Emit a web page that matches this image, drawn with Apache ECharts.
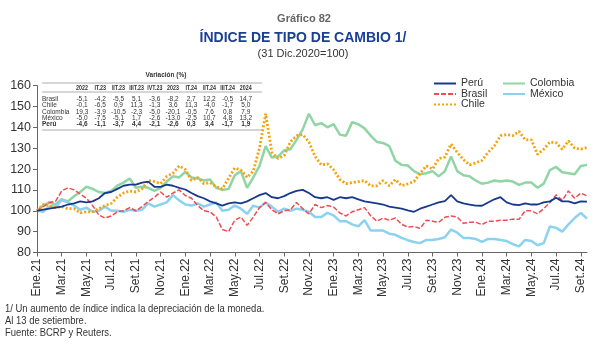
<!DOCTYPE html>
<html><head><meta charset="utf-8">
<script src="https://cdn.jsdelivr.net/npm/echarts@6/dist/echarts.min.js"></script>
<style>html,body{margin:0;padding:0;background:#fff}#c{width:600px;height:348px}</style>
</head><body><div id="c"></div>
<script>
// ---- data ----
const monthNames = ['Ene','Feb','Mar','Abr','May','Jun','Jul','Ago','Set','Oct','Nov','Dic'];
// semi-monthly observations: 1st and 15th of each month, Jan 2021 - Sep 2024 (last = 13 Sep 2024)
const categories = [];
for (let m = 0; m < 45; m++) { const nm = monthNames[m % 12] + '.' + (21 + Math.floor(m / 12)); categories.push(nm); categories.push('15 ' + nm); }

const peru = [
100,100.5, 101,101.5, 102,103, 103.5,104.5, 104,104.5, 106,108.5, 109,110.5, 112,112.5, 112.5,113.5, 114,111.5, 111.5,112.5, 112,111,
110.2,108.5, 107,106, 104.5,103.5, 102.5,103.5, 104,103.5, 104.5,106, 107.5,108.5, 106.5,106, 107,108.5, 109.5,110, 108.5,106.5, 106,106.5,
105.2,106.5, 106,106.5, 105.5,104.5, 104,103.5, 103,102, 101.5,101, 100.2,99.5, 101,102, 103,104, 104.6,107.5, 104.5,103.5, 103,102.5,
102.4,104, 105.5,106.5, 104,103, 102.7,103.5, 103,103, 104,104.5, 106.2,104.5, 104.5,103.5, 104.5,104.4
];
const brasil = [
100,102, 104,104.5, 109.5,111, 110,108, 106,102.5, 98,96.5, 97.5,99.5, 100,101.5, 100,102, 104.5,106.5, 109,106.5, 108.5,110,
107.3,106, 102.5,100, 99.5,97, 91,90, 95.5,97, 93,97, 101.5,104, 100.5,98.5, 100,100.5, 104,101, 98.5,103, 101.5,102.5,
101.8,99, 97.5,99.5, 100.5,101.5, 97.6,95, 96.5,95.5, 96.5,93.5, 92.2,92.5, 91.5,95.5, 95,94.5, 96.9,97.5, 97,94, 94.5,94.5,
93.4,95, 95,95.5, 95.5,96, 95.9,100, 100,98.5, 101,104, 107.6,105, 109.5,106, 108.5,107.1
];
const chile = [
100,103, 102.5,101.5, 102,101, 101,99, 99.5,99.5, 101,102.5, 103.5,106.5, 108.5,109.5, 109,110.5, 114.5,114, 113,116.5, 118,121.5,
119.8,114.5, 116,113, 113.5,111.5, 110.5,115.5, 120.5,119.5, 116,119, 130,146.5, 128,125, 126.5,133, 136,136.5, 133,126, 122,122.5,
119.7,115, 113,113.5, 114,114.5, 111.9,112, 114.5,112, 115,112, 112.9,114, 118,121.5, 120,125, 125.7,132, 128,124.5, 122,123,
124.1,128, 131,136, 136.5,136, 138.1,134, 134,127, 129.5,133, 132.6,129.5, 133.5,130, 129.5,130.3
];
const colombia = [
100,102.5, 104,103, 105.5,104.5, 107,109, 111.5,110.5, 109,108.5, 109.5,112, 113.5,115.5, 111,111.5, 111,109.5, 111,114, 116.5,116,
118.6,116, 115.5,114.5, 115,111, 110,110.5, 117,119, 111,116, 121.5,131, 125.5,126, 129,129.5, 134,139, 146.5,141, 142,140,
141.5,136.5, 136,142.5, 141.5,139.5, 136,133, 132.5,131, 124,122, 121.7,119, 117.5,118, 119,116.5, 118.9,126, 119,117, 116.5,114.5,
113,113.5, 114.5,114, 114.5,114, 112.4,113.5, 113.5,111, 113,119.5, 121,118.5, 118,117.5, 121.5,122
];
const mexico = [
100,99.5, 102,102, 105,104, 102.5,100.5, 101.5,99.5, 100,102, 100,100, 99.5,100.5, 100,100.5, 103.5,102, 103,104, 107.5,105,
103,102.5, 103.5,102, 103,104, 100,100.5, 102.5,101, 98.5,102.5, 101.5,104, 102,99.5, 101,100, 101,100.5, 99.5,97, 97,99,
97.8,95, 95,93.5, 92.5,95.5, 90.5,90.5, 90.5,89, 88.5,87, 85.9,85, 84.5,86, 86,86.5, 87.3,91, 89.5,87, 87,86.5,
85.1,86.5, 86.5,86, 85.5,84, 82.9,86, 85.5,83.5, 84.5,92.5, 91.8,90, 93.5,96.5, 99,96.2
];

// table (Variación %)
const tableCols = ['2022','IT.23','IIT.23','IIIT.23','IVT.23','2023','IT.24','IIT.24','IIIT.24','2024'];
const tableRows = ['Brasil','Chile','Colombia','México','Perú'];
const tableVals = [
  ['-5,1','-4,2','-5,5','5,1','-3,6','-8,2','2,7','12,2','-0,5','14,7'],
  ['-0,1','-6,5','0,9','11,3','-1,3','3,6','11,3','-4,0','-1,7','5,0'],
  ['19,3','-3,9','-10,5','-2,3','-5,0','-20,1','-0,5','7,6','0,8','7,9'],
  ['-5,0','-7,5','-5,1','1,7','-2,6','-13,0','-2,5','10,7','4,8','13,2'],
  ['-4,6','-1,1','-3,7','4,4','-2,1','-2,6','0,3','3,4','-1,7','1,9']
];
const yTicks = {min: 80, max: 160, interval: 10};
const footnotes = ['1/ Un aumento de índice indica la depreciación de la moneda.', 'Al 13 de setiembre.', 'Fuente: BCRP y Reuters.'];

// ---- styles ----
const FA = "'Liberation Sans',Arial,sans-serif";
const C = {peru:'#17398c', brasil:'#ef4b55', chile:'#f5a30d', colombia:'#8fd5a5', mexico:'#8bd2f1'};

const graphics = [];
graphics.push({type:'text', x:304, y:13, style:{text:'Gráfico 82', font:'bold 11px '+FA, fill:'#666', align:'center'}});
graphics.push({type:'text', x:303, y:30, scaleY:1.1, style:{text:'ÍNDICE DE TIPO DE CAMBIO 1/', font:'bold 14px '+FA, fill:'#1a3f95', align:'center'}});
graphics.push({type:'text', x:303, y:48, style:{text:'(31 Dic.2020=100)', font:'11px '+FA, fill:'#333', align:'center'}});
// table
const colX0 = 82, colDX = 18.2, tl = 42, tr = 262;
graphics.push({type:'text', x:166, y:71.5, style:{text:'Variación (%)', font:'bold 6.5px '+FA, fill:'#333', align:'center'}});
[83, 92, 130].forEach(y => graphics.push({type:'line', shape:{x1:tl, y1:y, x2:tr, y2:y}, style:{stroke:'#999', lineWidth:0.8}}));
tableCols.forEach((c, k) => graphics.push({type:'text', x:colX0 + colDX*k, y:84.5, scaleX:0.82, style:{text:c, font:'bold 6.5px '+FA, fill:'#333', align:'center'}}));
tableRows.forEach((r, j) => {
  const y = 95.5 + j*6.4;
  const w = r === 'Perú' ? 'bold ' : '';
  graphics.push({type:'text', x:42, y:y, style:{text:r, font:w+'6.5px '+FA, fill:'#333'}});
  tableVals[j].forEach((v, k) => graphics.push({type:'text', x:colX0 + colDX*k, y:y, style:{text:v, font:w+'6.5px '+FA, fill:'#333', align:'center'}}));
});
footnotes.forEach((t, i) => graphics.push({type:'text', x:5, y:303.5 + i*12, scaleX:0.86, style:{text:t, font:'11px '+FA, fill:'#333'}}));

function legendOne(name, left, top) {
  return {data:[name], left:left, top:top, itemWidth:22, itemHeight:10, padding:0,
    textStyle:{fontSize:10.5, color:'#333', fontFamily:FA}, itemStyle:{opacity:0}};
}
function ser(name, data, color, type, width, z) {
  return {name:name, type:'line', data:data, symbol:'none', showSymbol:false, z:z,
    lineStyle:{color:color, type:type, width:width}, itemStyle:{color:color}};
}

const chart = echarts.init(document.getElementById('c'), null, {renderer:'canvas'});
chart.setOption({
  animation:false,
  backgroundColor:'#fff',
  graphic: graphics,
  legend: [legendOne('Perú',433,78), legendOne('Brasil',433,88.5), legendOne('Chile',433,99),
           legendOne('Colombia',502,78), legendOne('México',502,88.5)],
  grid:{left:37, right:13, top:85.6, bottom:95.5},
  xAxis:{type:'category', data:categories, boundaryGap:false,
    axisLine:{lineStyle:{color:'#666'}},
    axisTick:{interval:3, length:4, lineStyle:{color:'#666'}},
    axisLabel:{interval:3, rotate:90, fontSize:12, color:'#333', margin:6, fontFamily:FA}},
  yAxis:{type:'value', min:yTicks.min, max:yTicks.max, interval:yTicks.interval,
    axisLine:{show:true, lineStyle:{color:'#666'}},
    axisTick:{show:true, length:4, lineStyle:{color:'#666'}},
    splitLine:{show:false},
    axisLabel:{fontSize:12.5, color:'#333', margin:6, fontFamily:FA}},
  series:[
    ser('Colombia', colombia, C.colombia, 'solid', 2.5, 2),
    ser('México', mexico, C.mexico, 'solid', 2.5, 2),
    ser('Brasil', brasil, C.brasil, [5,2], 1.5, 3),
    ser('Chile', chile, C.chile, [2,2], 2.8, 4),
    ser('Perú', peru, C.peru, 'solid', 1.8, 5)
  ]
});
</script></body></html>
